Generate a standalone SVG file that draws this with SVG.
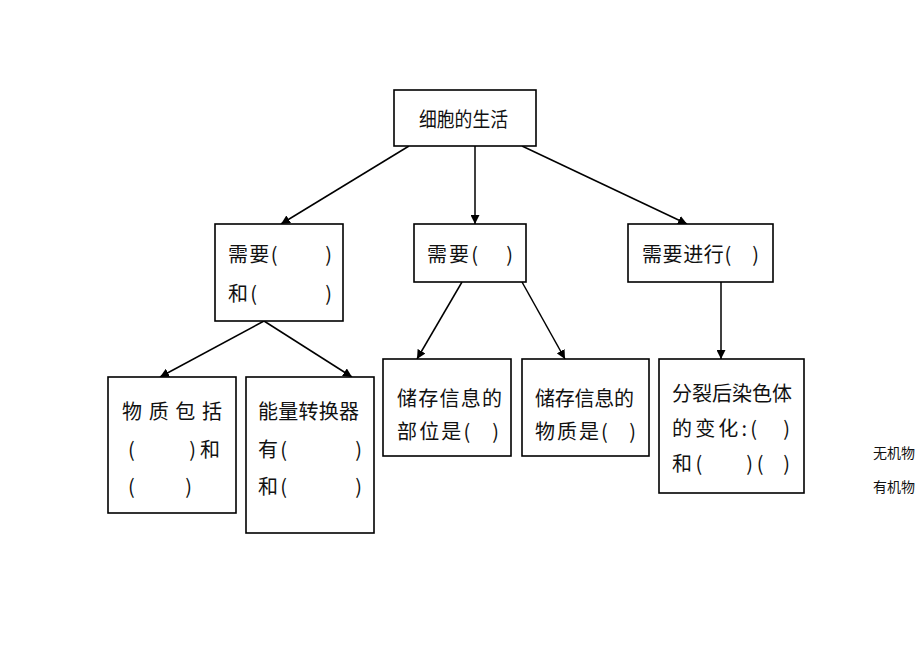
<svg xmlns="http://www.w3.org/2000/svg" width="920" height="651" viewBox="0 0 920 651">
<style>
.box{fill:#fff;stroke:#000;stroke-width:1.6}
.t{font-family:"Noto Sans CJK SC","Liberation Sans",sans-serif;font-size:20px;fill:#111;dominant-baseline:central}
.s{font-family:"Noto Sans CJK SC","Liberation Serif",serif;font-size:14px;fill:#111;dominant-baseline:central}
.c{stroke:#000;stroke-width:1.5;fill:none;marker-end:url(#ah)}
</style>
<defs>
<marker id="ah" viewBox="0 0 10 10" refX="10" refY="5" markerWidth="9" markerHeight="9" markerUnits="userSpaceOnUse" orient="auto">
<path d="M0,0 L10,5 L0,10 z" fill="#000"/>
</marker>
</defs>
<rect width="920" height="651" fill="#fff"/>
<g id="connectors">
<line class="c" x1="409" y1="146" x2="281" y2="224"/>
<line class="c" x1="475" y1="146" x2="475" y2="224"/>
<line class="c" x1="522" y1="146" x2="687" y2="224"/>
<line class="c" x1="264" y1="321" x2="160" y2="377"/>
<line class="c" x1="264" y1="321" x2="352" y2="377"/>
<line class="c" x1="462" y1="282" x2="417" y2="359"/>
<line class="c" x1="522" y1="282" x2="565" y2="359"/>
<line class="c" x1="721" y1="282" x2="721" y2="359"/>
</g>
<g id="root">
<rect class="box" x="394" y="90" width="142" height="56"/>
<text class="t" x="419" y="118" textLength="89" lengthAdjust="spacingAndGlyphs" xml:space="preserve">细胞的生活</text>
</g>
<g id="nodeA">
<rect class="box" x="215" y="224" width="128" height="97"/>
<text class="t" x="228" y="253" textLength="104" lengthAdjust="spacing" xml:space="preserve">需要(        )</text>
<text class="t" x="228" y="292" textLength="104" lengthAdjust="spacing" xml:space="preserve">和(          )</text>
</g>
<g id="nodeB">
<rect class="box" x="414" y="224" width="112" height="58"/>
<text class="t" x="427" y="253" textLength="86" lengthAdjust="spacing" xml:space="preserve">需要(    )</text>
</g>
<g id="nodeC">
<rect class="box" x="628" y="224" width="145" height="58"/>
<text class="t" x="642" y="253" textLength="117" lengthAdjust="spacing" xml:space="preserve">需要进行(    )</text>
</g>
<g id="nodeD">
<rect class="box" x="108" y="377" width="128" height="136"/>
<text class="t" x="122" y="410" textLength="100" lengthAdjust="spacing" xml:space="preserve">物 质 包 括</text>
<text class="t" x="128" y="448" textLength="92" lengthAdjust="spacing" xml:space="preserve">(      )和</text>
<text class="t" x="128" y="485" textLength="64" lengthAdjust="spacing" xml:space="preserve">(      )</text>
</g>
<g id="nodeE">
<rect class="box" x="246" y="377" width="128" height="156"/>
<text class="t" x="258" y="410" textLength="101" lengthAdjust="spacing" xml:space="preserve">能量转换器</text>
<text class="t" x="258" y="448" textLength="104" lengthAdjust="spacing" xml:space="preserve">有(          )</text>
<text class="t" x="258" y="485" textLength="104" lengthAdjust="spacing" xml:space="preserve">和(          )</text>
</g>
<g id="nodeF">
<rect class="box" x="383" y="359" width="128" height="97"/>
<text class="t" x="397" y="397" textLength="105" lengthAdjust="spacing" xml:space="preserve">储存信息的</text>
<text class="t" x="397" y="430" textLength="102" lengthAdjust="spacing" xml:space="preserve">部位是(   )</text>
</g>
<g id="nodeG">
<rect class="box" x="522" y="359" width="127" height="97"/>
<text class="t" x="535" y="397" textLength="99" lengthAdjust="spacing" xml:space="preserve">储存信息的</text>
<text class="t" x="535" y="430" textLength="101" lengthAdjust="spacing" xml:space="preserve">物质是(   )</text>
</g>
<g id="nodeH">
<rect class="box" x="659" y="359" width="145" height="134"/>
<text class="t" x="672" y="392" textLength="120" lengthAdjust="spacing" xml:space="preserve">分裂后染色体</text>
<text class="t" x="672" y="427" textLength="118" lengthAdjust="spacing" xml:space="preserve">的变化:(   )</text>
<text class="t" x="672" y="462" textLength="118" lengthAdjust="spacing" xml:space="preserve">和(     )(  )</text>
</g>
<g id="side">
<text class="s" x="873" y="452">无机物</text>
<text class="s" x="873" y="486">有机物</text>
</g>
</svg>
